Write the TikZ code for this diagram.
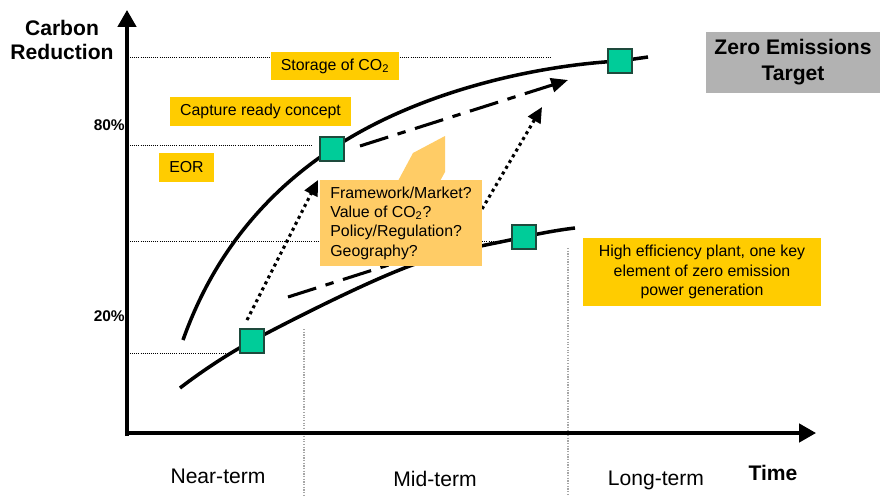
\documentclass[tikz,border=0pt]{standalone}
\usepackage{fontspec}
\setmainfont{Liberation Sans}
\usetikzlibrary{arrows.meta}
\definecolor{boxyellow}{HTML}{FFCC00}
\definecolor{calloutorange}{HTML}{FFCC66}
\definecolor{targetgray}{HTML}{B2B2B2}
\definecolor{squaregreen}{HTML}{00CC99}
\definecolor{squareedge}{HTML}{1E4A3C}

\begin{document}
\begin{tikzpicture}[x=0.025cm,y=-0.025cm,
  axis/.style={line width=2.4pt,-{Triangle[length=12pt,width=13pt]}},
  curve/.style={line width=2.5pt},
  dotarrow/.style={line width=2.2pt,dash pattern=on 2.2pt off 2.55pt,-{Triangle[length=11pt,width=10pt]}},
  dasharrow/.style={line width=2.2pt,dash pattern=on 21pt off 7pt on 6pt off 7pt,-{Triangle[length=12pt,width=10pt]}},
  guide/.style={densely dotted,line width=0.5pt},
  vguide/.style={densely dotted,gray!70,line width=0.9pt},
  sq/.style={draw=squareedge,fill=squaregreen,line width=0.8pt,minimum size=0.6cm,inner sep=0pt},
  note/.style={fill=boxyellow,inner sep=0pt,align=center,font=\fontsize{11.3}{13.8}\selectfont},
  tick/.style={anchor=east,inner sep=0pt,font=\bfseries\fontsize{11}{13}\selectfont},
  term/.style={inner sep=0pt,font=\fontsize{15}{18}\selectfont}]

  \fill[white] (0,0) rectangle (880,496);
  \useasboundingbox (0,0) rectangle (880,496);

  % guide lines
  \draw[guide] (130,57) -- (550,57);
  \draw[guide] (130,145) -- (312,145);
  \draw[guide] (130,241) -- (500,241);
  \draw[guide] (130,353) -- (232,353);
  \draw[vguide] (304,329) -- (304,496);
  \draw[vguide] (568,248) -- (568,496);

  % axes
  \coordinate (O) at (127,433);
  \coordinate (ytop) at (127,10);
  \coordinate (xend) at (816,433);
  \draw[axis] (127,436) -- (ytop);
  \draw[axis] (O) -- (xend);

  % stages on the curves
  \coordinate (pA) at (252,341);
  \coordinate (pB) at (332,149);
  \coordinate (pC) at (524,237);
  \coordinate (pD) at (620,61);

  \draw[curve] (183,340) .. controls (215,250) and (270,190) .. (pB)
                         .. controls (420,90) and (540,65) .. (pD) -- (648,57);
  \draw[curve] plot[smooth,tension=0.6] coordinates {(180,388) (pA) (407,267) (pC) (575,228)};

  % moves between the curves
  \coordinate (d1s) at (247,320);
  \coordinate (d1e) at (318,180);
  \coordinate (d2s) at (455,255);
  \coordinate (d2e) at (542,107);
  \coordinate (h1s) at (360,146);
  \coordinate (h1e) at (568,80);
  \coordinate (h2s) at (288,297);
  \coordinate (h2e) at (420,255);
  \draw[dotarrow] (d1s) -- (d1e);
  \draw[dotarrow] (d2s) -- (d2e);
  \draw[dasharrow] (h1s) -- (h1e);
  \draw[dasharrow,-] (h2s) -- (h2e);

  % callout
  \node[fill=calloutorange,inner sep=0pt,minimum width=4.05cm,minimum height=2.15cm,
        align=left,font=\fontsize{11.3}{13.8}\selectfont] (issues) at (401,223)
    {Framework/Market?\\Value of CO\textsubscript{2}?\\Policy/Regulation?\\Geography?};
  \fill[calloutorange] (398,181) -- (413,153) -- (445,136) -- (445,172) -- (440,181) -- cycle;

  \node[sq] (sqA) at (pA) {};
  \node[sq] (sqB) at (pB) {};
  \node[sq] (sqC) at (pC) {};
  \node[sq] (sqD) at (pD) {};

  % technology notes
  \node[note,minimum width=3.2cm,minimum height=0.7cm] (storage) at (335,66) {Storage of CO\textsubscript{2}};
  \node[note,minimum width=4.525cm,minimum height=0.725cm] (capture) at (260.5,111.5) {Capture ready concept};
  \node[note,minimum width=1.375cm,minimum height=0.725cm] (eor) at (186.5,167.5) {EOR};
  \node[note,minimum width=5.95cm,minimum height=1.7cm] (plant) at (702,272)
    {High efficiency plant, one key\\element of zero emission\\power generation};
  \node[fill=targetgray,inner sep=0pt,minimum width=4.35cm,minimum height=1.525cm,align=center,
        font=\bfseries\fontsize{15}{18.4}\selectfont] (target) at (793,62.5) {Zero Emissions\\Target};

  % axis labels
  \node[align=center,inner sep=0pt,font=\bfseries\fontsize{15}{17}\selectfont] (ylabel) at (62,40) {Carbon\\Reduction};
  \node[tick] (p80) at (125,125) {80\%};
  \node[tick] (p20) at (125,316) {20\%};
  \node[term,font=\bfseries\fontsize{15}{18}\selectfont] (time) at (773,473) {Time};
  \node[term] (near) at (218,476) {Near-term};
  \node[term] (mid) at (435,479) {Mid-term};
  \node[term] (long) at (656,480) {Long-term};
\end{tikzpicture}
\end{document}
